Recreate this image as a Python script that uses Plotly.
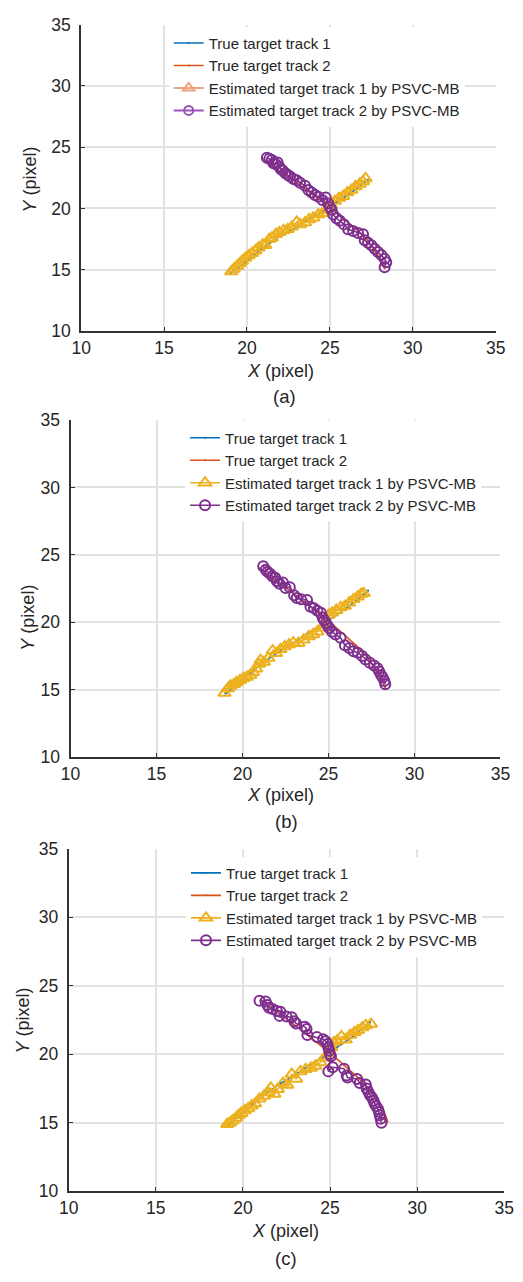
import plotly.graph_objects as go

# ---------------- data ----------------
TRUE1_X = [19.0, 19.8, 20.6, 21.4, 22.2, 23.0, 23.8, 24.6, 25.4, 26.2, 27.0, 27.3]
TRUE1_Y = [14.7, 15.5, 16.4, 17.2, 17.9, 18.5, 19.2, 19.8, 20.5, 21.2, 22.0, 22.35]
TRUE2_X = [21.0, 21.8, 22.6, 23.4, 24.2, 25.0, 25.8, 26.6, 27.2, 27.7, 28.1, 28.3]
TRUE2_Y = [24.0, 23.2, 22.5, 21.7, 20.9, 20.1, 19.2, 18.3, 17.5, 16.6, 15.8, 15.1]

A_EST1_X = [19.05, 19.2, 19.4, 19.55, 19.7, 19.9, 20.1, 20.3, 20.5, 20.7, 20.95, 21.1, 21.35, 21.5, 21.75, 21.95,
            22.2, 22.45, 22.7, 23.0, 23.2, 23.5, 23.75, 24.0, 24.3, 24.55, 24.8, 25.05, 25.3, 25.55, 25.8, 26.05,
            26.3, 26.55, 26.8, 27.0, 27.15]
A_EST1_Y = [14.85, 15.05, 15.3, 15.5, 15.7, 15.95, 16.15, 16.35, 16.55, 16.8, 17.05, 17.0, 17.5, 17.6, 17.9, 18.05,
            18.2, 18.3, 18.5, 18.9, 18.7, 18.85, 19.1, 19.25, 19.5, 19.6, 19.85, 20.3, 20.6, 20.85, 21.0, 21.3,
            21.5, 21.8, 22.0, 22.2, 22.45]
A_EST2_X = [21.2, 21.35, 21.5, 21.6, 21.75, 21.85, 21.95, 22.05, 22.15, 22.3, 22.45, 22.6, 22.8, 23.0, 23.2, 23.5,
            23.7, 23.9, 24.1, 24.3, 24.55, 24.75, 24.9, 25.0, 25.1, 25.2, 25.4, 25.6, 25.85, 26.1, 26.4, 26.7,
            27.0, 27.1, 27.3, 27.5, 27.7, 27.9, 28.1, 28.3, 28.4, 28.3]
A_EST2_Y = [24.15, 24.05, 23.95, 23.7, 23.6, 23.75, 23.4, 23.2, 23.1, 22.9, 22.75, 22.6, 22.4, 22.3, 22.1, 21.85,
            21.5, 21.3, 21.1, 20.95, 20.7, 20.9, 20.4, 20.1, 19.9, 19.5, 19.2, 19.0, 18.7, 18.3, 18.15, 18.0,
            17.9, 17.4, 17.2, 17.0, 16.7, 16.45, 16.2, 15.9, 15.6, 15.2]

B_EST1_X = [18.95, 19.15, 19.3, 19.5, 19.65, 19.85, 20.05, 20.25, 20.45, 20.6, 20.8, 20.95, 21.05, 21.25, 21.5,
            21.75, 21.95, 22.2, 22.45, 22.7, 22.95, 23.25, 23.55, 23.85, 24.1, 24.35, 24.6, 24.8, 25.0, 25.2,
            25.45, 25.7, 25.95, 26.2, 26.45, 26.7, 26.9, 27.05]
B_EST1_Y = [14.75, 15.1, 15.3, 15.4, 15.55, 15.7, 15.85, 15.95, 16.1, 16.3, 16.55, 16.9, 17.2, 17.05, 17.35,
            17.9, 17.7, 18.0, 18.2, 18.35, 18.5, 18.45, 18.7, 18.95, 19.1, 19.3, 19.6, 19.9, 20.55, 20.7,
            20.9, 21.1, 21.2, 21.45, 21.7, 21.9, 22.1, 22.15]
B_EST2_X = [21.2, 21.35, 21.45, 21.6, 21.75, 21.9, 22.0, 22.15, 22.35, 22.5, 22.75, 23.0, 23.15, 23.4, 23.75,
            23.95, 24.15, 24.35, 24.55, 24.65, 24.75, 24.85, 24.95, 25.05, 25.2, 25.4, 25.7, 25.95, 26.2, 26.45,
            26.7, 26.95, 27.15, 27.4, 27.65, 27.85, 27.95, 28.05, 28.15, 28.25, 28.3]
B_EST2_Y = [24.15, 23.9, 23.75, 23.6, 23.4, 23.3, 23.05, 22.85, 22.95, 22.55, 22.6, 22.0, 21.8, 21.7, 21.65,
            21.15, 21.05, 20.85, 20.7, 20.35, 20.15, 19.95, 19.75, 19.55, 19.3, 19.1, 18.85, 18.3, 18.1, 17.85,
            17.75, 17.5, 17.25, 17.0, 16.8, 16.6, 16.35, 16.1, 15.9, 15.65, 15.4]

C_EST1_X = [19.1, 19.25, 19.4, 19.6, 19.75, 19.9, 20.1, 20.3, 20.5, 20.7, 20.95, 21.2, 21.45, 21.6, 21.8, 22.0,
            22.3, 22.55, 22.8, 23.05, 23.3, 23.6, 23.9, 24.15, 24.45, 24.7, 24.9, 25.05, 25.2, 25.4, 25.65, 25.9,
            26.15, 26.4, 26.6, 26.85, 27.05, 27.35]
C_EST1_Y = [14.9, 15.0, 15.15, 15.35, 15.55, 15.7, 15.9, 16.05, 16.25, 16.4, 16.75, 16.95, 17.2, 17.55, 17.1, 17.45,
            17.9, 17.75, 18.55, 18.2, 18.75, 18.9, 19.0, 19.15, 19.4, 19.75, 20.1, 20.5, 20.85, 21.0, 21.3, 21.05,
            21.4, 21.6, 21.75, 21.95, 22.1, 22.2]
C_EST2_X = [20.95, 21.3, 21.4, 21.5, 21.7, 21.95, 22.15, 22.1, 22.5, 22.8, 22.95, 23.05, 23.55, 23.65, 23.7, 24.25,
            24.6, 24.75, 24.85, 24.9, 24.95, 25.0, 25.05, 24.9, 25.15, 25.8, 25.95, 26.0, 26.55, 26.7, 27.05, 27.1,
            27.2, 27.3, 27.4, 27.5, 27.55, 27.65, 27.75, 27.8, 27.85, 27.9, 27.95]
C_EST2_Y = [23.9, 23.85, 23.6, 23.4, 23.3, 23.15, 23.1, 22.8, 22.75, 22.7, 22.4, 22.25, 22.0, 21.85, 21.4, 21.25,
            21.1, 20.95, 20.75, 20.5, 20.25, 20.0, 19.85, 18.75, 19.05, 18.95, 18.45, 18.3, 18.2, 17.9, 17.8, 17.5,
            17.25, 17.0, 16.85, 16.6, 16.4, 16.2, 16.0, 15.8, 15.55, 15.3, 15.0]

NAMES = ["True target track 1", "True target track 2",
         "Estimated target track 1 by PSVC-MB", "Estimated target track 2 by PSVC-MB"]
TICKS = [10, 15, 20, 25, 30, 35]
CAPTIONS = ["(a)", "(b)", "(c)"]

# ---------------- style ----------------
W, H = 523, 1282
BLUE, RED, YEL, PUR = "#0072BD", "#D95319", "#EDB120", "#7E2F8E"
TXT = "#262626"
FONT = "Liberation Sans, Arial, Helvetica, sans-serif"

# panel geometry in pixels: (left, right, top, bottom)
PANELS = [(74, 505, 15, 326), (63, 510, 416.5, 759), (61, 514, 852, 1200)]
LEGEND_POS = [(165, 17), (182, 418), (183, 860)]
XTITLE = [(281, 367), (281, 797), (286, 1240)]
CAPPOS = [(285, 393), (287, 824), (287, 1268)]
YTITLE = [(21, 172), (19, 617), (13, 1027)]

ests = [(A_EST1_X, A_EST1_Y, A_EST2_X, A_EST2_Y),
        (B_EST1_X, B_EST1_Y, B_EST2_X, B_EST2_Y),
        (C_EST1_X, C_EST1_Y, C_EST2_X, C_EST2_Y)]

fig = go.Figure()
layout = dict(width=W, height=H, margin=dict(l=0, r=0, t=0, b=0),
              paper_bgcolor="white", plot_bgcolor="white",
              font=dict(family=FONT, color=TXT), annotations=[])

TRI = dict(symbol="triangle-up-open", size=11, color=YEL, line=dict(width=2))
CIR = dict(symbol="circle-open", size=10, color=PUR, line=dict(width=2))

for i, (e1x, e1y, e2x, e2y) in enumerate(ests):
    sfx = "" if i == 0 else str(i + 1)
    xa, ya = "x" + sfx, "y" + sfx
    leg = "legend" + sfx
    first = (i == 0)
    fig.add_trace(go.Scatter(x=TRUE1_X, y=TRUE1_Y, mode="lines+markers", name=NAMES[0],
                             line=dict(color=BLUE, width=1.6), marker=dict(size=2, color=BLUE),
                             xaxis=xa, yaxis=ya, legend=leg))
    fig.add_trace(go.Scatter(x=TRUE2_X, y=TRUE2_Y, mode="lines+markers", name=NAMES[1],
                             line=dict(color=RED, width=1.6), marker=dict(size=2, color=RED),
                             xaxis=xa, yaxis=ya, legend=leg))
    fig.add_trace(go.Scatter(x=e1x, y=e1y, mode="lines+markers", name=NAMES[2],
                             line=dict(color=YEL, width=1.6), marker=TRI,
                             xaxis=xa, yaxis=ya, legend=leg, showlegend=not first))
    fig.add_trace(go.Scatter(x=e2x, y=e2y, mode="lines+markers", name=NAMES[3],
                             line=dict(color=PUR, width=1.6), marker=CIR,
                             xaxis=xa, yaxis=ya, legend=leg, showlegend=not first))
    if first:
        # legend entries in panel (a) appear in lighter tints
        fig.add_trace(go.Scatter(x=[None], y=[None], mode="lines+markers", name=NAMES[2],
                                 line=dict(color="#EBA380", width=2),
                                 marker=dict(TRI, color="#EBA380", size=10),
                                 xaxis=xa, yaxis=ya, legend=leg))
        fig.add_trace(go.Scatter(x=[None], y=[None], mode="lines+markers", name=NAMES[3],
                                 line=dict(color="#9A52B8", width=2),
                                 marker=dict(CIR, color="#9A52B8", size=9),
                                 xaxis=xa, yaxis=ya, legend=leg))

    l, r, t, b = PANELS[i]
    axcommon = dict(range=[10, 35], tickvals=TICKS, showgrid=True, gridcolor="#E2E2E2", gridwidth=1.6,
                    showline=True, linecolor="#333333", linewidth=2, ticks="inside", ticklen=4,
                    tickcolor="#333333", tickwidth=1.3, zeroline=False,
                    tickfont=dict(size=17.5, color=TXT, family=FONT), fixedrange=True)
    layout["xaxis" + sfx] = dict(axcommon, domain=[l / W, r / W], anchor=ya, ticklabelstandoff=0)
    layout["yaxis" + sfx] = dict(axcommon, domain=[1 - b / H, 1 - t / H], anchor=xa, ticklabelstandoff=5)
    lx, ly = LEGEND_POS[i]
    layout[leg] = dict(x=lx / W, y=1 - ly / H, xanchor="left", yanchor="top", xref="paper", yref="paper",
                       bgcolor="white", borderwidth=0, font=dict(size=15, color=TXT, family=FONT),
                       tracegroupgap=0, itemwidth=30)
    tx, ty = XTITLE[i]
    layout["annotations"].append(dict(text="<i>X</i> (pixel)", x=tx / W, y=1 - ty / H, xref="paper",
                                      yref="paper", showarrow=False, xanchor="center", yanchor="middle",
                                      font=dict(size=18, color=TXT, family=FONT)))
    cx, cy = CAPPOS[i]
    layout["annotations"].append(dict(text=CAPTIONS[i], x=cx / W, y=1 - cy / H, xref="paper",
                                      yref="paper", showarrow=False, xanchor="center", yanchor="middle",
                                      font=dict(size=18.5, color=TXT, family=FONT)))
    yx, yy = YTITLE[i]
    layout["annotations"].append(dict(text="<i>Y</i> (pixel)", x=yx / W, y=1 - yy / H, xref="paper",
                                      yref="paper", showarrow=False, xanchor="center", yanchor="middle",
                                      textangle=-90, font=dict(size=18, color=TXT, family=FONT)))

fig.update_layout(**layout)
fig.write_html("out.html")
